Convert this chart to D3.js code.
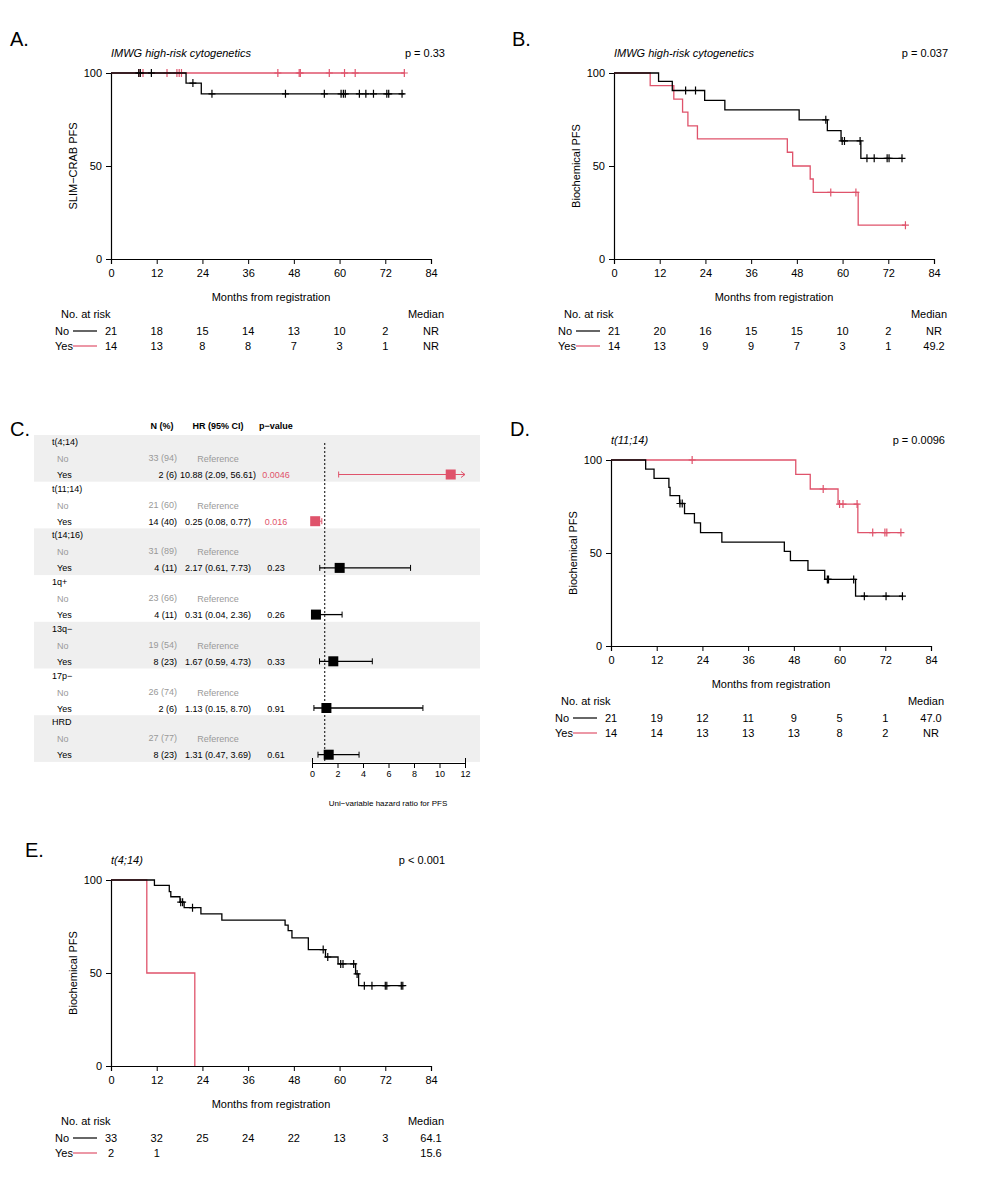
<!DOCTYPE html>
<html><head><meta charset="utf-8">
<script src="https://cdn.jsdelivr.net/npm/d3@7"></script>
<style>body{margin:0;background:#fff}svg{font-family:"Liberation Sans",Arial,sans-serif}</style>
</head><body><div id="chart"></div>
<script>
//data
const months = [0, 12, 24, 36, 48, 60, 72, 84];
const survTicks = [0, 50, 100];

// panel A
const aNoSteps = [[0, 100], [19.7, 94.6], [23.7, 88.8], [77, 88.8]];
const aNoCens = [7.3, 7.7, 10.6, 21.5, 26.5, 45.8, 56, 60.4, 61, 61.5, 65.2, 66.9, 68.9, 72.4, 72.9, 76.4];
const aYesSteps = [[0, 100], [77, 100]];
const aYesCens = [7.3, 8.4, 14.7, 17.3, 17.9, 18.5, 43.8, 49.4, 49.7, 57.3, 61.3, 64.1, 77];
const aRiskNo = [21, 18, 15, 14, 13, 10, 2];
const aRiskYes = [14, 13, 8, 8, 7, 3, 1];
const aMedian = ['NR', 'NR'];

// panel B
const bNoSteps = [[0, 100], [11.7, 95.5], [15.3, 90.6], [23.8, 85.3], [29.1, 80.2], [48.6, 74.8], [56, 69], [59.6, 63.5], [64.8, 54.1], [75.6, 54.1]];
const bNoCens = [18.8, 21.4, 55.6, 59.9, 60.5, 64.6, 66.4, 68.3, 71.7, 72.2, 75.6];
const bYesSteps = [[0, 100], [9.5, 93.2], [15.7, 86], [18, 79], [19.4, 71.6], [21.9, 64.6], [45.5, 57.4], [46.9, 50], [51.5, 43], [52.3, 35.8], [64.1, 18.2], [76.5, 18.2]];
const bYesCens = [56.9, 63.5, 76.5];
const bRiskNo = [21, 20, 16, 15, 15, 10, 2];
const bRiskYes = [14, 13, 9, 9, 7, 3, 1];
const bMedian = ['NR', '49.2'];

// panel D
const dNoSteps = [[0, 100], [9.1, 95.1], [11.3, 90.1], [15.2, 85.3], [15.5, 80.9], [18, 76.6], [19.3, 71.2], [21.9, 66.2], [23.5, 61], [29.1, 55.9], [45.5, 50.9], [47.1, 45.9], [51.7, 40.7], [56.1, 35.8], [64.2, 26.8], [76.5, 26.8]];
const dNoCens = [18.1, 18.7, 56.8, 57.1, 63.7, 66.5, 72.2, 76.5];
const dYesSteps = [[0, 100], [48.5, 92.3], [52.3, 84.4], [59.6, 76.3], [64.8, 61], [76.1, 61]];
const dYesCens = [21.3, 55.7, 60, 60.9, 64.6, 68.7, 71.9, 72.4, 76.1];
const dRiskNo = [21, 19, 12, 11, 9, 5, 1];
const dRiskYes = [14, 14, 13, 13, 13, 8, 2];
const dMedian = ['47.0', 'NR'];

// panel E
const eNoSteps = [[0, 100], [11.4, 97.1], [15.3, 93.7], [15.7, 91], [18.1, 88.1], [19.2, 85.1], [23.6, 81.8], [29.1, 78.4], [45.7, 75.7], [46.5, 72.8], [47.5, 68.9], [51.8, 62.6], [56.3, 58.6], [59.6, 54.9], [64.2, 49.5], [65, 43.2], [76.6, 43.2]];
const eNoCens = [18.3, 18.8, 21.4, 55.7, 56.9, 60.3, 60.9, 63.7, 64.6, 66.5, 68.5, 72, 72.4, 76.2, 76.6];
const eYesSteps = [[0, 100], [9.4, 50], [22, 0]];
const eYesCens = [];
const eRiskNo = [33, 32, 25, 24, 22, 13, 3];
const eRiskYes = [2, 1];
const eMedian = ['64.1', '15.6'];

// panel C
const fGroups = ['t(4;14)', 't(11;14)', 't(14;16)', '1q+', '13q\u2212', '17p\u2212', 'HRD'];
const fNoN = ['33 (94)', '21 (60)', '31 (89)', '23 (66)', '19 (54)', '26 (74)', '27 (77)'];
const fYesN = ['2 (6)', '14 (40)', '4 (11)', '4 (11)', '8 (23)', '2 (6)', '8 (23)'];
const fHR = [10.88, 0.25, 2.17, 0.31, 1.67, 1.13, 1.31];
const fLo = [2.09, 0.08, 0.61, 0.04, 0.59, 0.15, 0.47];
const fHi = [56.61, 0.77, 7.73, 2.36, 4.73, 8.70, 3.69];
const fP = ['0.0046', '0.016', '0.23', '0.26', '0.33', '0.91', '0.61'];
const hrTicks = [0, 2, 4, 6, 8, 10, 12];

const RED = '#DF536B';
const svg = d3.select('#chart').append('svg').attr('width', 990).attr('height', 1200);

function stepY(steps, t) {
	let s = steps[0][1];
	for (const [tt, v] of steps) if (tt <= t) s = v;
	return s;
}

function kmPanel(o) {
	const g = svg.append('g');
	const x = d3.scaleLinear().domain([0, 84]).range([o.x0, o.x0 + 320]);
	const y = d3.scaleLinear().domain([0, 100]).range([o.y0 + 186, o.y0]);
	const fs = 11;
	g.append('text').attr('x', o.labX).attr('y', o.labY).attr('font-size', 20).text(o.letter);
	g.append('text').attr('x', o.x0).attr('y', o.y0 - 16).attr('font-size', fs).attr('font-style', 'italic').text(o.title);
	g.append('text').attr('x', o.x0 + 334).attr('y', o.y0 - 16).attr('font-size', fs).attr('text-anchor', 'end').text(o.p);

	const xa = g.append('g').attr('transform', `translate(0,${o.y0 + 186})`)
		.call(d3.axisBottom(x).tickValues(months).tickSize(5).tickPadding(5));
	const ya = g.append('g').attr('transform', `translate(${o.x0},0)`)
		.call(d3.axisLeft(y).tickValues(survTicks).tickSize(5).tickPadding(4));
	[xa, ya].forEach(a => { a.selectAll('text').attr('font-size', fs).attr('font-family', null); a.select('.domain').attr('stroke-width', 1.2); });
	g.append('text').attr('x', x(42)).attr('y', o.y0 + 228).attr('text-anchor', 'middle').attr('font-size', fs).text('Months from registration');
	g.append('text').attr('transform', `translate(${o.x0 - 34},${y(50)}) rotate(-90)`).attr('text-anchor', 'middle').attr('font-size', fs).text(o.ylab);

	const line = d3.line().curve(d3.curveStepAfter).x(d => x(d[0])).y(d => y(d[1]));
	[[o.yes, RED, o.yesC], [o.no, '#000', o.noC]].forEach(([steps, col, cens]) => {
		g.append('path').attr('d', line(steps)).attr('fill', 'none').attr('stroke', col).attr('stroke-width', 1.3);
		g.selectAll(null).data(cens).enter().append('path')
			.attr('d', t => `M${x(t)},${y(stepY(steps, t)) - 4}v8M${x(t) - 3.5},${y(stepY(steps, t))}h7`)
			.attr('stroke', col).attr('stroke-width', 1.2);
	});

	// risk table
	const ry = o.y0 + 245;
	g.append('text').attr('x', o.x0 - 50).attr('y', ry).attr('font-size', fs).text('No. at risk');
	g.append('text').attr('x', o.x0 + 333).attr('y', ry).attr('font-size', fs).attr('text-anchor', 'end').text('Median');
	[['No', o.riskNo, '#000', o.med[0]], ['Yes', o.riskYes, RED, o.med[1]]].forEach(([lab, vals, col, med], i) => {
		const yy = ry + 17 + i * 15;
		g.append('text').attr('x', o.x0 - 56).attr('y', yy).attr('font-size', fs).text(lab);
		g.append('line').attr('x1', o.x0 - 38).attr('x2', o.x0 - 14).attr('y1', yy - 4).attr('y2', yy - 4).attr('stroke', col).attr('stroke-width', 1.2);
		g.selectAll(null).data(vals).enter().append('text')
			.attr('x', (d, j) => x(months[j])).attr('y', yy).attr('font-size', fs).attr('text-anchor', 'middle').text(d => d);
		g.append('text').attr('x', o.x0 + 320).attr('y', yy).attr('font-size', fs).attr('text-anchor', 'middle').text(med);
	});
}

kmPanel({ letter: 'A.', labX: 10, labY: 46, x0: 111, y0: 73, title: 'IMWG high-risk cytogenetics', p: 'p = 0.33', ylab: 'SLIM\u2212CRAB PFS',
	no: aNoSteps, noC: aNoCens, yes: aYesSteps, yesC: aYesCens, riskNo: aRiskNo, riskYes: aRiskYes, med: aMedian });
kmPanel({ letter: 'B.', labX: 512, labY: 46, x0: 614, y0: 73, title: 'IMWG high-risk cytogenetics', p: 'p = 0.037', ylab: 'Biochemical PFS',
	no: bNoSteps, noC: bNoCens, yes: bYesSteps, yesC: bYesCens, riskNo: bRiskNo, riskYes: bRiskYes, med: bMedian });
kmPanel({ letter: 'D.', labX: 510, labY: 436, x0: 611, y0: 460, title: 't(11;14)', p: 'p = 0.0096', ylab: 'Biochemical PFS',
	no: dNoSteps, noC: dNoCens, yes: dYesSteps, yesC: dYesCens, riskNo: dRiskNo, riskYes: dRiskYes, med: dMedian });
kmPanel({ letter: 'E.', labX: 25, labY: 857, x0: 111, y0: 880, title: 't(4;14)', p: 'p < 0.001', ylab: 'Biochemical PFS',
	no: eNoSteps, noC: eNoCens, yes: eYesSteps, yesC: eYesCens, riskNo: eRiskNo, riskYes: eRiskYes, med: eMedian });

// forest plot
const fg = svg.append('g');
fg.append('text').attr('x', 10).attr('y', 436).attr('font-size', 20).text('C.');
const fx = d3.scaleLinear().domain([0, 12]).range([312, 465]);
const rowH = 46.7, fTop = 435;
const fs2 = 9;
[['N (%)', 162], ['HR (95% CI)', 218], ['p\u2212value', 276]].forEach(([t, xx]) =>
	fg.append('text').attr('x', xx).attr('y', 429).attr('text-anchor', 'middle').attr('font-size', fs2).attr('font-weight', 'bold').text(t));
fGroups.forEach((grp, i) => {
	const y0 = fTop + i * rowH;
	const sig = +fP[i] < 0.05;
	const col = sig ? RED : '#000';
	if (i % 2 === 0) fg.append('rect').attr('x', 34).attr('y', y0).attr('width', 446).attr('height', rowH).attr('fill', '#efefef');
	fg.append('text').attr('x', 52).attr('y', y0 + 10).attr('font-size', fs2).text(grp);
	fg.append('text').attr('x', 57).attr('y', y0 + 27).attr('font-size', fs2).attr('fill', '#999').text('No');
	fg.append('text').attr('x', 177).attr('y', y0 + 26).attr('font-size', fs2).attr('fill', '#999').attr('text-anchor', 'end').text(fNoN[i]);
	fg.append('text').attr('x', 218).attr('y', y0 + 27).attr('font-size', fs2).attr('fill', '#999').attr('text-anchor', 'middle').text('Reference');
	const yy = y0 + 43;
	fg.append('text').attr('x', 57).attr('y', yy).attr('font-size', fs2).text('Yes');
	fg.append('text').attr('x', 177).attr('y', yy).attr('font-size', fs2).attr('text-anchor', 'end').text(fYesN[i]);
	fg.append('text').attr('x', 218).attr('y', yy).attr('font-size', fs2).attr('text-anchor', 'middle')
		.text(`${fHR[i].toFixed(2)} (${fLo[i].toFixed(2)}, ${fHi[i].toFixed(2)})`);
	fg.append('text').attr('x', 276).attr('y', yy).attr('font-size', fs2).attr('text-anchor', 'middle').attr('fill', sig ? RED : '#000').text(fP[i]);
	const cy = yy - 3.5;
	const hi = Math.min(fHi[i], 12);
	fg.append('line').attr('x1', fx(fLo[i])).attr('x2', fx(hi)).attr('y1', cy).attr('y2', cy).attr('stroke', col).attr('stroke-width', sig ? 1 : 1.3);
	fg.append('line').attr('x1', fx(fLo[i])).attr('x2', fx(fLo[i])).attr('y1', cy - 3).attr('y2', cy + 3).attr('stroke', col);
	if (fHi[i] > 12) {
		fg.append('path').attr('d', `M${fx(12) - 4},${cy - 3}L${fx(12)},${cy}L${fx(12) - 4},${cy + 3}`).attr('fill', 'none').attr('stroke', col);
	} else {
		fg.append('line').attr('x1', fx(hi)).attr('x2', fx(hi)).attr('y1', cy - 3).attr('y2', cy + 3).attr('stroke', col);
	}
	fg.append('rect').attr('x', fx(fHR[i]) - 5).attr('y', cy - 5).attr('width', 10).attr('height', 10).attr('fill', col);
});
fg.append('line').attr('x1', fx(1)).attr('x2', fx(1)).attr('y1', 443).attr('y2', 763).attr('stroke', '#000').attr('stroke-dasharray', '2,2');
const fa = fg.append('g').attr('transform', 'translate(0,763)')
	.call(d3.axisBottom(fx).tickValues(hrTicks).tickSize(-5).tickPadding(8));
fa.selectAll('text').attr('font-size', fs2).attr('font-family', null);
fa.selectAll('.tick line').attr('y2', 5);
fg.append('text').attr('x', 388).attr('y', 806).attr('text-anchor', 'middle').attr('font-size', fs2 - 1).text('Uni\u2212variable hazard ratio for PFS');
</script></body></html>
